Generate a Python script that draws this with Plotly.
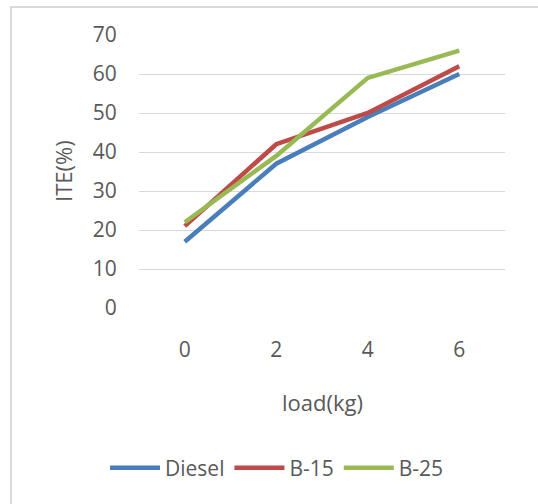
import plotly.graph_objects as go

loads = ["0", "2", "4", "6"]
diesel = [17, 37, 49, 60]
b15 = [21, 42, 50, 62]
b25 = [22, 39, 59, 66]
y_ticks = [0, 10, 20, 30, 40, 50, 60, 70]

series_names = ["Diesel", "B-15", "B-25"]
series_values = [diesel, b15, b25]
colors = ["#4A7EBB", "#BE4B48", "#98B954"]

FONT = "Open Sans"
TXT = "#595959"
W, H = 538, 504
L, R, T, B = 139, 33, 35, 196
pw, ph = W - L - R, H - T - B

fig = go.Figure()
for name, vals, c in zip(series_names, series_values, colors):
    fig.add_trace(go.Scatter(x=loads, y=vals, name=name, mode="lines",
                             line=dict(color=c, width=4.5)))

def px_x(p):
    return (p - L) / pw

def px_y(p):
    return 1 - (p - T) / ph

fig.update_layout(
    width=W, height=H,
    margin=dict(l=L, r=R, t=T, b=B),
    paper_bgcolor="white", plot_bgcolor="white",
    font=dict(family=FONT, size=20, color=TXT),
    showlegend=True,
    legend=dict(orientation="h", x=px_x(277), xanchor="center",
                y=px_y(468), yanchor="middle",
                font=dict(family=FONT, size=21, color=TXT),
                itemwidth=50, tracegroupgap=0),
    xaxis=dict(type="category", range=[-0.5, 3.5], showgrid=False,
               showline=False, zeroline=False,
               ticks="outside", ticklen=23, tickcolor="rgba(0,0,0,0)",
               tickfont=dict(family=FONT, size=21, color=TXT)),
    yaxis=dict(range=[0, 70], tickvals=y_ticks, showgrid=True,
               gridcolor="#D9D9D9", gridwidth=1.3, zeroline=False,
               showline=False,
               ticks="outside", ticklen=17, tickcolor="rgba(0,0,0,0)",
               tickfont=dict(family=FONT, size=21, color=TXT)),
    shapes=[dict(type="rect", xref="paper", yref="paper",
                 x0=px_x(11), x1=px_x(W + 20), y0=px_y(H + 20), y1=px_y(7),
                 line=dict(color="#D9D9D9", width=2), layer="below")],
    annotations=[
        dict(text="ITE(%)", xref="paper", yref="paper", x=px_x(63), y=px_y(171),
             showarrow=False, textangle=-90, xanchor="center", yanchor="middle",
             font=dict(family=FONT, size=22, color=TXT)),
        dict(text="load(kg)", xref="paper", yref="paper", x=px_x(322), y=px_y(402),
             showarrow=False, xanchor="center", yanchor="middle",
             font=dict(family=FONT, size=22, color=TXT)),
    ],
)

fig.write_html("out.html")
